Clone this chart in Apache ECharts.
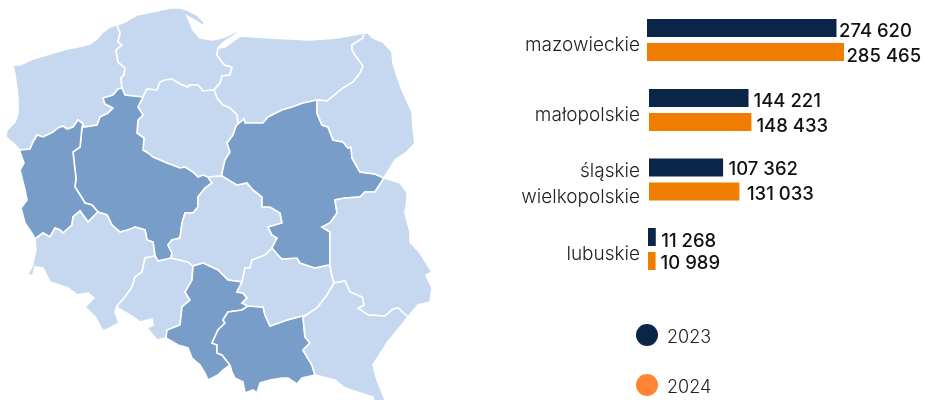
<!DOCTYPE html>
<html><head><meta charset="utf-8">
<style>html,body{margin:0;padding:0;background:#fff}#c{width:931px;height:400px}</style>
<script src="https://cdn.jsdelivr.net/npm/echarts@6/dist/echarts.min.js"></script>
</head><body><div id="c"></div>
<script>
// ---- chart data ----
const categories = ['mazowieckie', 'małopolskie', 'śląskie\nwielkopolskie', 'lubuskie'];
const values2023 = [274620, 144221, 107362, 11268];
const values2024 = [285465, 148433, 131033, 10989];
const seriesNames = ['2023', '2024'];
const highlightedRegions = ['mazowieckie', 'małopolskie', 'śląskie', 'wielkopolskie', 'lubuskie'];

// ---- map outline: shared border lines ----
const coastZP = [[117,25],[110,27],[103,32],[97,39],[90,44],[78,47],[67,49],[50,54],[33,59],[20,65],[13,65],[15,75],[17,90],[18,100],[18,113],[15,122],[7,130],[6,137],[13,143],[20,150]];
const zpLub = [[20,150],[30,149],[33,142],[37,135],[43,137],[53,132],[58,128],[63,126],[67,129],[73,127],[78,120],[83,124]];
const zpWp = [[83,124],[84,127],[97,125],[100,117],[108,113],[113,108],[105,104],[103,98],[113,95],[118,89],[122,88]];
const zpPom = [[122,88],[121,78],[124,75],[125,68],[118,62],[116,50],[122,45],[118,42],[120,33],[117,25]];
const coastPom = [[117,25],[125,22],[137,15],[157,11],[170,8],[180,8],[187,10],[197,15],[204,22],[203,26],[196,21],[187,16],[193,30],[200,38],[213,40],[225,37],[237,31],[238,33],[224,42],[218,48]];
const pomWm = [[218,48],[217,55],[222,62],[225,65],[232,67],[230,75],[222,76],[220,83],[214,90]];
const pomKp = [[214,90],[203,91],[198,85],[190,85],[188,87],[180,84],[172,79],[165,80],[160,82],[157,90],[147,89],[143,97]];
const pomWp = [[143,97],[133,96],[125,95],[122,88]];
const coastWm = [[218,48],[225,47],[240,36],[270,38],[310,40],[337,38],[364,33]];
const wmPodl = [[364,33],[363,38],[352,45],[352,50],[355,55],[363,66],[360,73],[353,82],[343,88],[332,97],[327,101],[317,100]];
const wmMaz = [[317,100],[303,103],[292,107],[282,110],[268,117],[263,123],[253,123],[245,123],[244,119],[238,124]];
const wmKp = [[238,124],[237,115],[230,108],[223,105],[217,98],[214,90]];
const kpMaz = [[238,124],[236,126],[233,135],[227,143],[230,152],[225,160],[222,173],[222,176]];
const kpLodz = [[222,176],[208,177]];
const wpKp = [[208,177],[203,175],[198,177],[193,172],[185,167],[180,168],[167,163],[160,160],[153,157],[148,153],[143,150],[144,138],[137,133],[138,120],[143,115],[138,107],[143,97]];
const wpLodz = [[208,177],[212,183],[205,188],[198,197],[198,207],[193,213],[185,213],[182,223],[180,238],[172,240],[168,245],[172,253],[171,258]];
const wpOp = [[171,258],[167,259],[158,261],[155,256]];
const wpDs = [[155,256],[153,242],[147,240],[145,230],[135,227],[128,230],[120,232],[112,225],[107,215],[98,212]];
const wpLub = [[98,212],[92,205],[85,203],[82,198],[75,187],[76,178],[75,170],[73,152],[80,147],[82,127],[83,124]];
const lubDs = [[98,212],[88,222],[80,211],[73,217],[72,225],[63,233],[60,230],[55,228],[50,237],[43,233],[35,239]];
const lubWest = [[35,239],[33,235],[25,223],[21,208],[27,200],[25,190],[20,170],[24,163],[20,152],[20,150]];
const dsOp = [[155,256],[145,258],[142,272],[135,277],[132,287],[125,297],[117,306]];
const dsOuter = [[117,306],[115,312],[119,323],[110,328],[103,331],[95,317],[85,307],[94,298],[88,293],[77,295],[68,288],[50,282],[43,268],[35,267],[33,275],[27,275],[32,267],[36,250],[35,239]];
const opLodz = [[171,258],[188,262],[193,266]];
const opSl = [[193,266],[192,280],[185,292],[190,300],[182,307],[180,325],[167,330],[166,338]];
const opOuter = [[166,338],[157,340],[147,328],[153,325],[152,319],[140,322],[133,317],[118,308],[117,306]];
const lodzMaz = [[222,176],[237,185],[247,183],[253,190],[262,197],[262,207],[270,207],[280,213],[282,223],[268,227],[272,235],[277,238],[272,248]];
const lodzSw = [[272,248],[265,255],[252,260],[250,268],[245,268],[242,282]];
const lodzSl = [[242,282],[228,280],[218,270],[203,263],[193,266]];
const slSw = [[242,282],[237,292],[243,293],[247,298],[242,303],[248,306]];
const slMal = [[248,306],[242,310],[228,312],[223,320],[225,323],[218,330],[212,343],[217,345],[217,353],[222,355],[230,365]];
const slOuter = [[230,365],[223,370],[218,375],[208,380],[205,373],[200,365],[192,358],[188,348],[178,345],[166,338]];
const malSw = [[248,306],[263,307],[265,315],[270,326],[287,320],[306,315]];
const malPodk = [[306,315],[303,317],[305,337],[310,343],[303,350],[312,365],[315,375]];
const malOuter = [[315,375],[302,378],[297,384],[288,378],[282,378],[270,380],[260,383],[257,393],[253,390],[245,393],[243,382],[235,378],[232,372],[230,365]];
const swMaz = [[272,248],[278,255],[282,259],[297,258],[300,263],[315,268],[328,265],[330,266]];
const swLub = [[330,266],[333,280],[334,283]];
const swPodk = [[334,283],[327,295],[317,308],[306,315]];
const mazPodl = [[317,100],[317,113],[322,125],[328,127],[333,140],[343,142],[348,148],[351,147],[352,158],[360,172],[375,174],[384,178]];
const mazLub = [[384,178],[375,192],[365,192],[360,197],[345,198],[335,200],[337,213],[330,223],[322,227],[330,232],[330,243],[330,266]];
const podlOuter = [[364,33],[368,33],[373,38],[383,42],[392,52],[393,63],[397,76],[402,90],[412,112],[413,128],[415,143],[407,152],[395,160],[384,178]];
const lubOuter = [[384,178],[400,183],[407,192],[407,200],[405,213],[410,232],[410,242],[420,253],[432,272],[426,275],[432,288],[430,302],[418,305],[408,317]];
const lubPodk = [[408,317],[398,308],[393,309],[385,316],[368,315],[358,308],[364,305],[362,297],[350,292],[345,281],[335,283],[334,283]];
const podkOuter = [[408,317],[387,343],[373,365],[377,380],[386,402],[374,402],[373,397],[345,388],[335,380],[323,377],[315,375]];

const rev = a => a.slice().reverse();
const ringOf = (...parts) => [].concat(...parts);
const regionRings = {
  'zachodniopomorskie': ringOf(coastZP, zpLub, zpWp, zpPom),
  'pomorskie': ringOf(coastPom, pomWm, pomKp, pomWp, zpPom),
  'warmińsko-mazurskie': ringOf(coastWm, wmPodl, wmMaz, wmKp, rev(pomWm)),
  'kujawsko-pomorskie': ringOf(rev(pomKp), rev(wmKp), kpMaz, kpLodz, wpKp),
  'wielkopolskie': ringOf(rev(pomWp), rev(wpKp), wpLodz, wpOp, wpDs, wpLub, zpWp),
  'lubuskie': ringOf(rev(wpLub), lubDs, lubWest, zpLub),
  'dolnośląskie': ringOf(rev(lubDs), rev(wpDs), dsOp, dsOuter),
  'opolskie': ringOf(rev(wpOp), opLodz, opSl, opOuter, rev(dsOp)),
  'łódzkie': ringOf(rev(kpLodz), lodzMaz, lodzSw, lodzSl, rev(opLodz), rev(wpLodz)),
  'śląskie': ringOf(rev(lodzSl), slSw, slMal, slOuter, rev(opSl)),
  'małopolskie': ringOf(malSw, malPodk, malOuter, rev(slMal)),
  'świętokrzyskie': ringOf(swMaz, swLub, swPodk, rev(malSw), rev(slSw), rev(lodzSw)),
  'mazowieckie': ringOf(rev(wmMaz), mazPodl, mazLub, rev(swMaz), rev(lodzMaz), rev(kpMaz)),
  'podlaskie': ringOf(podlOuter, rev(mazPodl), rev(wmPodl)),
  'lubelskie': ringOf(lubOuter, lubPodk, rev(swLub), rev(mazLub)),
  'podkarpackie': ringOf(rev(lubPodk), podkOuter, rev(malPodk), rev(swPodk))
};
const geoJson = {
  type: 'FeatureCollection',
  features: Object.keys(regionRings).map(name => ({
    type: 'Feature',
    properties: { name },
    geometry: { type: 'Polygon', coordinates: [regionRings[name]] }
  }))
};
echarts.registerMap('poland', geoJson);

// ---- styling and layout ----
const FONT = 'Inter';
const NAVY = '#0a2548', ORANGE = '#f07d00';
const rowCenters = [40, 110, 179.5, 249];
const rowLefts = [647, 649, 649, 648];
const labelNudges = [
  [[-2.5, 3], [-2.5, 4]],
  [[0, 3], [0, 4]],
  [[0.5, 2], [2.5, 3]],
  [[0.5, 4], [0, 2]]
];
const fmt = v => String(v).replace(/\B(?=(\d{3})+$)/g, ' ');
const catStyle = { fontFamily: FONT, fontSize: 19, fontWeight: 300, color: '#222' };
const legendTextStyle = { fontFamily: FONT, fontSize: 18, fontWeight: 300, color: '#222' };

const rowAxisLabel = (name, left) => {
  const base = { margin: left - 640, ...catStyle };
  const lines = name.split('\n');
  if (lines.length === 1) return { ...base, verticalAlign: 'top', lineHeight: 10 };
  return {
    ...base,
    formatter: () => '{a|' + lines[0] + '}\n{b|' + lines[1] + '}',
    rich: { a: { ...catStyle, lineHeight: 35 }, b: { ...catStyle, lineHeight: 17 } }
  };
};
const barSeries = (name, value, color, row, nudge) => ({
  name, type: 'bar', barWidth: 18, barGap: '33.3%', silent: true,
  xAxisIndex: row, yAxisIndex: row,
  itemStyle: { color },
  label: {
    show: true, position: 'right', offset: nudge,
    fontFamily: FONT, fontSize: 18.5, fontWeight: 500, color: '#111',
    formatter: p => fmt(p.value)
  },
  data: [value]
});

const chart = echarts.init(document.getElementById('c'), null, { renderer: 'canvas' });
chart.setOption({
  animation: false,
  backgroundColor: '#fff',
  grid: categories.map((_, i) => ({ left: rowLefts[i], top: rowCenters[i] - 35, width: 276, height: 70 })),
  xAxis: categories.map((_, i) => ({ type: 'value', gridIndex: i, min: 0, max: 400000, show: false })),
  yAxis: categories.map((name, i) => ({
    type: 'category', gridIndex: i, data: [name],
    axisLine: { show: false }, axisTick: { show: false }, splitLine: { show: false },
    axisLabel: rowAxisLabel(name, rowLefts[i])
  })),
  legend: {
    orient: 'vertical', left: 636, top: 324, padding: 0,
    itemWidth: 22, itemHeight: 22, itemGap: 27, icon: 'circle', selectedMode: false,
    formatter: name => '{t|' + name + '}',
    textStyle: { ...legendTextStyle, rich: { t: { ...legendTextStyle, padding: [6, 0, 0, 4] } } },
    data: [
      { name: seriesNames[0], itemStyle: { color: NAVY } },
      { name: seriesNames[1], itemStyle: { color: '#ff8533' } }
    ]
  },
  series: [
    {
      type: 'map', map: 'poland', silent: true, aspectScale: 1,
      projection: { project: p => p, unproject: p => p },
      boundingCoords: [[0, 0], [931, 400]],
      left: 0, top: 0, width: 931, height: 400,
      label: { show: false },
      itemStyle: { areaColor: '#c6d8f0', borderColor: '#fff', borderWidth: 1.6 },
      data: Object.keys(regionRings).map(name => highlightedRegions.includes(name)
        ? { name, itemStyle: { areaColor: '#789dc9' } }
        : { name })
    },
    ...categories.flatMap((_, i) => [
      barSeries(seriesNames[0], values2023[i], NAVY, i, labelNudges[i][0]),
      barSeries(seriesNames[1], values2024[i], ORANGE, i, labelNudges[i][1])
    ])
  ]
});
</script></body></html>
